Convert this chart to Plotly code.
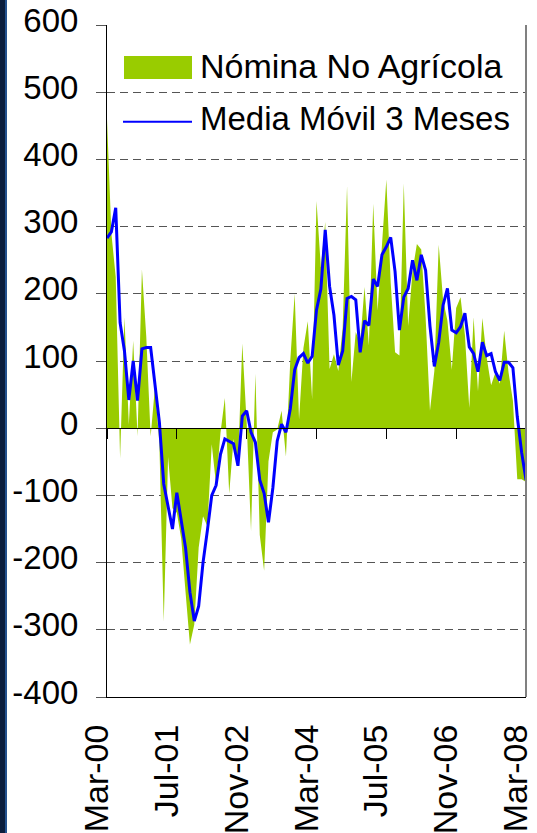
import pandas as pd
import plotly.graph_objects as go

# Monthly change in non-farm payrolls (thousands), Mar-2000 .. Mar-2008
nomina = [
    460, 290, 225, -45, 165, 5, 130, -12, 236, 136,            # Mar-00 .. Dec-00
    -12, 62, -23, -288, -43, -119, -126, -164, -244, -322, -292, -178,  # 2001
    -131, -146, -24, -85, -7, 45, -97, -16, -55, 126, 8, -153,  # 2002
    81, -159, -212, -49, -6, -2, 26, -42, 102, 200, 13, 119,   # 2003
    159, 43, 338, 239, 307, 88, 110, 85, 150, 360, 69, 143,    # 2004
    126, 210, 123, 334, 175, 265, 370, 217, 113, 108, 364, 152,  # 2005
    234, 274, 266, 165, 26, 85, 273, 191, 160, 87, 179, 195,   # 2006
    139, 30, 165, 55, 164, 105, 64, 83, 66, 145, 83, 41,       # 2007
    -76, -76, -80,                                              # 2008
]

media_movil = [
    283, 292, 328, 157, 115, 42, 100, 41, 118, 120,
    120, 62, 9, -83, -118, -150, -96, -136, -178, -244, -287, -265,
    -200, -152, -100, -85, -39, -16, -20, -23, -56, 18, 26, -6,
    -21, -77, -97, -140, -89, -19, 6, -6, 29, 87, 105, 111,
    97, 107, 176, 207, 295, 211, 168, 94, 115, 193, 196, 191,
    113, 160, 153, 222, 211, 258, 270, 284, 233, 146, 195, 208,
    250, 220, 258, 235, 152, 92, 128, 183, 208, 146, 142, 151,
    171, 121, 111, 84, 128, 108, 111, 84, 71, 98, 98, 90,
    17, -36, -77,
]

meses = list(pd.date_range("2000-03-01", periods=len(nomina), freq="MS").strftime("%b-%y"))
idx = list(range(len(meses)))
tick_idx = idx[::16]
tick_txt = [meses[i] for i in tick_idx]

y_ticks = [-400, -300, -200, -100, 0, 100, 200, 300, 400, 500, 600]
y_tick_txt = ["-400", "-300", "-200", "-100", "0", "100", "200", "300", "400", "500", "600"]

FONT = "Liberation Sans, Arial, sans-serif"
GREEN = "#99CC00"
BLUE = "#0000FF"

fig = go.Figure()
fig.add_trace(go.Scatter(
    x=idx, y=nomina, mode="lines", fill="tozeroy",
    fillcolor=GREEN, line=dict(width=0, color=GREEN),
    name="Nómina No Agrícola", showlegend=False, hoverinfo="skip",
))
fig.add_trace(go.Scatter(
    x=idx, y=media_movil, mode="lines",
    line=dict(color=BLUE, width=3),
    name="Media Móvil 3 Meses", showlegend=False, hoverinfo="skip",
))
# helper trace so that the zero-line axis (x2) is rendered
fig.add_trace(go.Scatter(x=[], y=[], xaxis="x2", showlegend=False, hoverinfo="skip"))

W, H = 537, 833
ML, MR, MT, MB = 107, 11, 25, 136
PW, PH = W - ML - MR, H - MT - MB

def px(xp):
    return (xp - ML) / PW

def py(yp):
    return (H - MB - yp) / PH

fig.update_layout(
    width=W, height=H,
    margin=dict(l=ML, r=MR, t=MT, b=MB, pad=0, autoexpand=False),
    paper_bgcolor="white", plot_bgcolor="white",
    font=dict(family=FONT, color="black"),
    showlegend=False,
    xaxis=dict(
        range=[0, len(idx) - 1], tickmode="array", tickvals=tick_idx, ticktext=tick_txt,
        tickangle=-90, tickfont=dict(size=34, family=FONT, color="black"),
        ticks="", showgrid=False, zeroline=False, automargin=False,
        ticklabeloverflow="allow",
        showline=True, linecolor="black", linewidth=1,
        ticklabelstandoff=13, ticklabelshift=-10,
    ),
    xaxis2=dict(
        overlaying="x", matches="x", anchor="free", position=0.4,
        tickmode="array", tickvals=tick_idx, showticklabels=False,
        ticks="outside", ticklen=10, tickcolor="black", tickwidth=1,
        showline=True, linecolor="black", linewidth=1,
        showgrid=False, zeroline=False, automargin=False,
    ),
    yaxis=dict(
        range=[-400, 600], tickmode="array", tickvals=y_ticks, ticktext=y_tick_txt,
        tickfont=dict(size=33, family=FONT, color="black"),
        ticks="outside", ticklen=10, tickcolor="#555555", tickwidth=1,
        showgrid=True, gridcolor="#555555", gridwidth=1, griddash="8px,5px",
        zeroline=True, zerolinecolor="black", zerolinewidth=1,
        showline=True, linecolor="black", linewidth=1, automargin=False,
        ticklabeloverflow="allow",
        ticklabelstandoff=11, ticklabelshift=-5,
    ),
)

shapes = [
    # right frame line
    dict(type="line", xref="paper", yref="paper", x0=1, x1=1, y0=0, y1=1,
         line=dict(color="#808080", width=2), layer="above"),
    # legend background
    dict(type="rect", xref="paper", yref="paper", x0=px(113), x1=px(522), y0=py(145), y1=py(35),
         fillcolor="white", line=dict(width=0), layer="between"),
    # legend swatch: area
    dict(type="rect", xref="paper", yref="paper", x0=px(124), x1=px(192), y0=py(79), y1=py(56),
         fillcolor=GREEN, line=dict(width=0), layer="above"),
    # legend swatch: line
    dict(type="line", xref="paper", yref="paper", x0=px(123), x1=px(192), y0=py(121.7), y1=py(121.7),
         line=dict(color=BLUE, width=2), layer="above"),
    # left slide border
    dict(type="rect", xref="paper", yref="paper", x0=px(0), x1=px(5), y0=py(H), y1=py(0),
         fillcolor="#0a1d3d", line=dict(width=0), layer="above"),
    dict(type="rect", xref="paper", yref="paper", x0=px(5), x1=px(7), y0=py(H), y1=py(0),
         fillcolor="#23528f", line=dict(width=0), layer="above"),
]
fig.update_layout(shapes=shapes)

fig.add_annotation(text="Nómina No Agrícola", xref="paper", yref="paper",
                   x=px(198), y=py(66), xanchor="left", yanchor="middle", showarrow=False,
                   font=dict(size=34, family=FONT, color="black"))
fig.add_annotation(text="Media Móvil 3 Meses", xref="paper", yref="paper",
                   x=px(198), y=py(119), xanchor="left", yanchor="middle", showarrow=False,
                   font=dict(size=33, family=FONT, color="black"))

fig.write_html("out.html", config={"displayModeBar": False},
               post_script="document.body.style.margin='0px';document.body.style.overflow='hidden';")
